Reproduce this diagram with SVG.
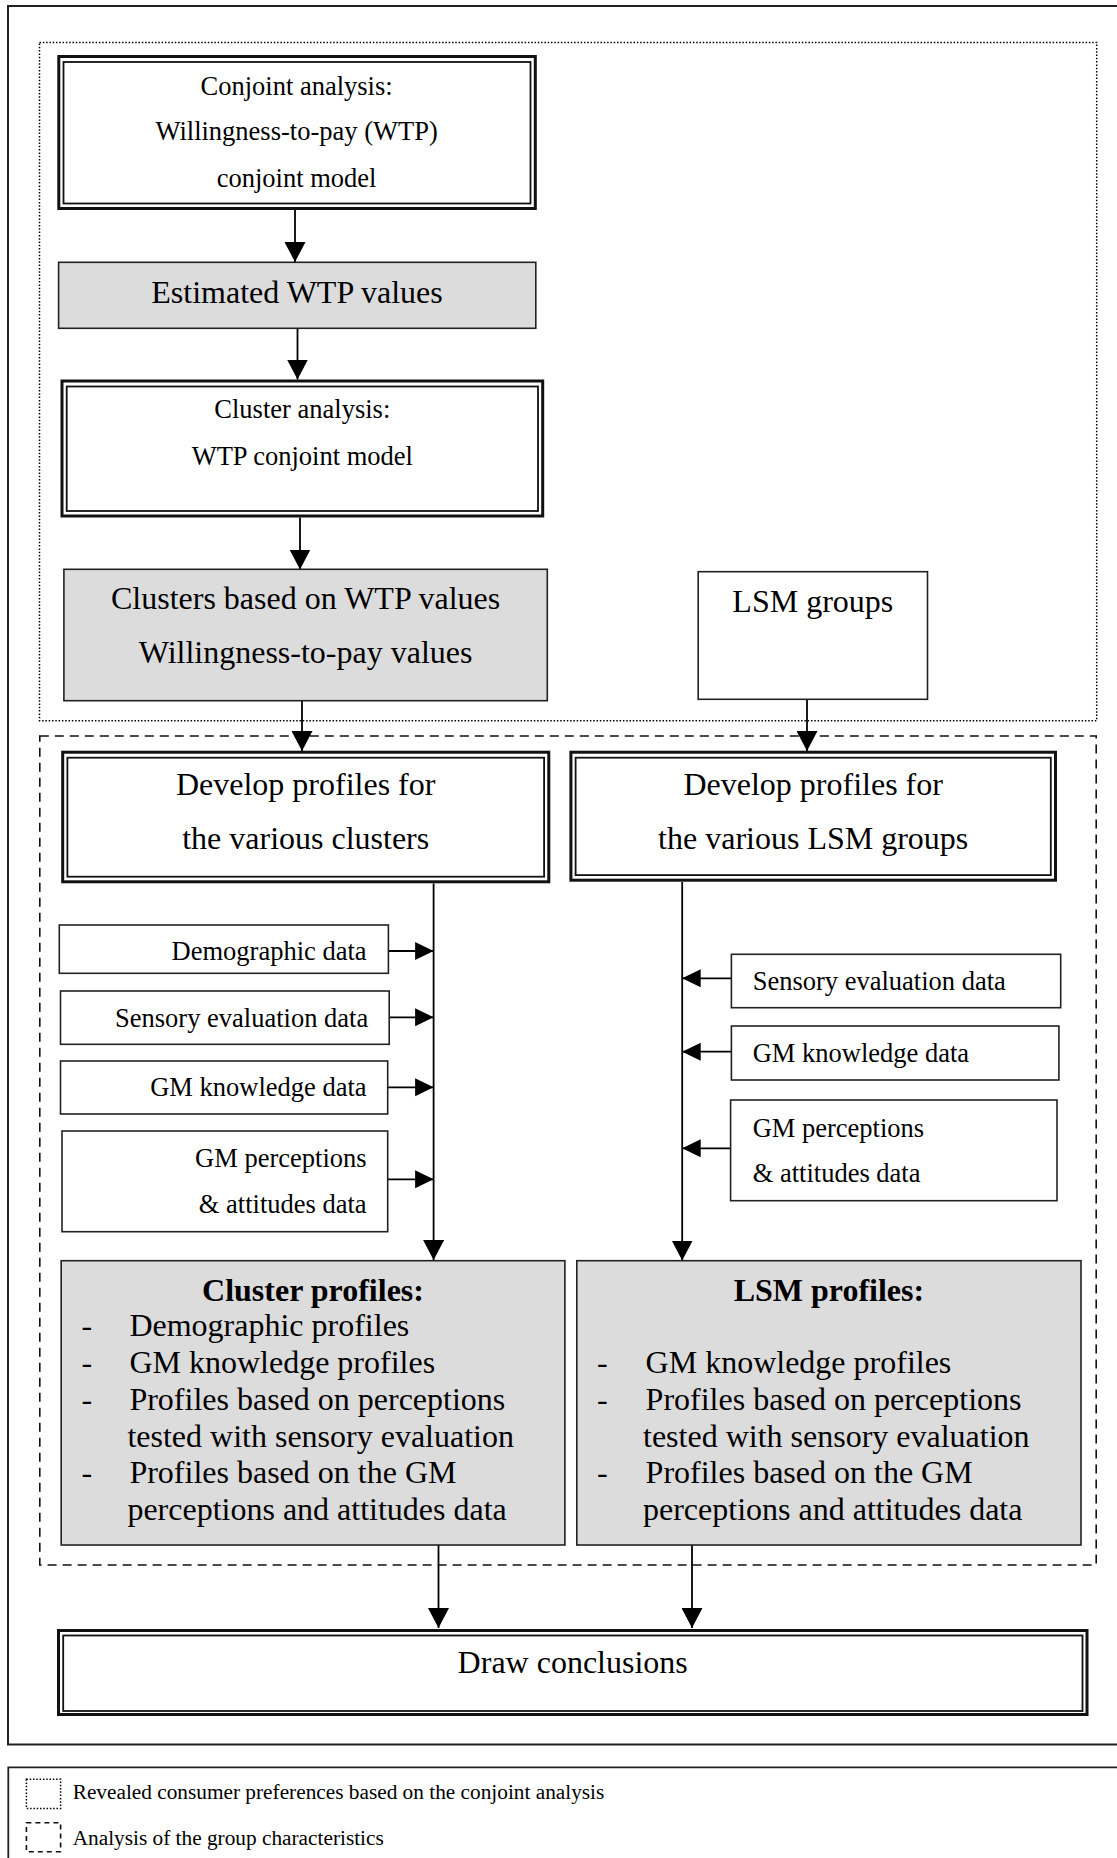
<svg xmlns="http://www.w3.org/2000/svg" width="1117" height="1858" viewBox="0 0 1117 1858">
<style>
  text { font-family: "Liberation Serif", "Times New Roman", serif; fill: #000; }
  .t265 { font-size: 26.5px; }
  .t32 { font-size: 32px; }
  .b32 { font-size: 32px; font-weight: bold; }
  .leg { font-size: 21.3px; }
  .mid { text-anchor: middle; }
  .end { text-anchor: end; }
  .box { fill: #fff; stroke: #222; stroke-width: 1.6; }
  .gray { fill: #dcdcdc; stroke: #222; stroke-width: 1.6; }
  .dbl-o { fill: #fff; stroke: #111; stroke-width: 3; }
  .dbl-i { fill: none; stroke: #111; stroke-width: 1.8; }
  .frame { fill: none; stroke: #222; stroke-width: 2; }
  .dotted { fill: none; stroke: #000; stroke-width: 1.5; stroke-dasharray: 1.5 1.8; }
  .dashed { fill: none; stroke: #111; stroke-width: 1.6; stroke-dasharray: 9 6; }
  .dashed-s { fill: none; stroke: #111; stroke-width: 1.6; stroke-dasharray: 5 4; }
  .conn { fill: none; stroke: #000; stroke-width: 1.8; }
</style>
<defs>
  <marker id="arr" markerUnits="userSpaceOnUse" markerWidth="21" markerHeight="21" refX="20" refY="10.5" orient="auto">
    <path d="M0,0 L20,10.5 L0,21 Z" fill="#000"/>
  </marker>
  <marker id="arrs" markerUnits="userSpaceOnUse" markerWidth="19" markerHeight="19" refX="18.5" refY="9" orient="auto">
    <path d="M0,0 L18.5,9 L0,18 Z" fill="#000"/>
  </marker>
</defs>

<rect width="1117" height="1858" fill="#fff"/>

<!-- outer frame -->
<g id="frame">
  <path class="frame" d="M1120,6 H8 V1744.5 H1120"/>
</g>

<!-- groups -->
<g id="group-conjoint">
  <rect class="dotted" x="39.5" y="42.5" width="1057.2" height="678.2"/>
</g>
<g id="group-characteristics">
  <rect class="dashed" x="39.8" y="736" width="1056.4" height="829"/>
</g>

<!-- connectors -->
<g id="connectors">
  <line class="conn" x1="295" y1="210" x2="295" y2="262" marker-end="url(#arr)"/>
  <line class="conn" x1="297.5" y1="328.5" x2="297.5" y2="379.5" marker-end="url(#arr)"/>
  <line class="conn" x1="300" y1="517.5" x2="300" y2="569.5" marker-end="url(#arr)"/>
  <line class="conn" x1="302" y1="701" x2="302" y2="751" marker-end="url(#arr)"/>
  <line class="conn" x1="807" y1="699.5" x2="807" y2="751" marker-end="url(#arr)"/>
  <line class="conn" x1="433.6" y1="883.5" x2="433.6" y2="1260" marker-end="url(#arr)"/>
  <line class="conn" x1="682.2" y1="882" x2="682.2" y2="1260.5" marker-end="url(#arr)"/>
  <line class="conn" x1="388.4" y1="951" x2="433.6" y2="951" marker-end="url(#arrs)"/>
  <line class="conn" x1="389.2" y1="1017.3" x2="433.6" y2="1017.3" marker-end="url(#arrs)"/>
  <line class="conn" x1="387.7" y1="1087.3" x2="433.6" y2="1087.3" marker-end="url(#arrs)"/>
  <line class="conn" x1="387.7" y1="1179.3" x2="433.6" y2="1179.3" marker-end="url(#arrs)"/>
  <line class="conn" x1="731.4" y1="978.3" x2="682.2" y2="978.3" marker-end="url(#arrs)"/>
  <line class="conn" x1="731.4" y1="1051.7" x2="682.2" y2="1051.7" marker-end="url(#arrs)"/>
  <line class="conn" x1="730.6" y1="1148.3" x2="682.2" y2="1148.3" marker-end="url(#arrs)"/>
  <line class="conn" x1="438.5" y1="1545" x2="438.5" y2="1628" marker-end="url(#arr)"/>
  <line class="conn" x1="692" y1="1545" x2="692" y2="1628" marker-end="url(#arr)"/>
</g>

<!-- nodes -->
<g id="conjoint-analysis">
  <rect class="dbl-o" x="58.8" y="56.5" width="476.5" height="152"/>
  <rect class="dbl-i" x="63.5" y="62" width="467" height="141.5"/>
  <text class="t265 mid" x="296.6" y="95">Conjoint analysis:</text>
  <text class="t265 mid" x="296.6" y="140">Willingness-to-pay (WTP)</text>
  <text class="t265 mid" x="296.6" y="186.7">conjoint model</text>
</g>

<g id="estimated-wtp">
  <rect class="gray" x="58.6" y="262.3" width="477.2" height="66"/>
  <text class="t32 mid" x="297" y="302.7">Estimated WTP values</text>
</g>

<g id="cluster-analysis">
  <rect class="dbl-o" x="62" y="381" width="480.7" height="135"/>
  <rect class="dbl-i" x="66.7" y="386.5" width="471.3" height="124.5"/>
  <text class="t265 mid" x="302.3" y="418.3">Cluster analysis:</text>
  <text class="t265 mid" x="302.3" y="465">WTP conjoint model</text>
</g>

<g id="clusters-wtp">
  <rect class="gray" x="63.9" y="569.3" width="483.4" height="131.4"/>
  <text class="t32 mid" x="305.6" y="609.3">Clusters based on WTP values</text>
  <text class="t32 mid" x="305.6" y="663.3">Willingness-to-pay values</text>
</g>

<g id="lsm-groups">
  <rect class="box" x="698.2" y="571.7" width="229.3" height="127.6"/>
  <text class="t32 mid" x="812.8" y="611.7">LSM groups</text>
</g>

<g id="develop-clusters">
  <rect class="dbl-o" x="62.7" y="752.2" width="486.1" height="129.6"/>
  <rect class="dbl-i" x="67.4" y="757.7" width="476.7" height="119"/>
  <text class="t32 mid" x="305.7" y="795">Develop profiles for</text>
  <text class="t32 mid" x="305.7" y="849.3">the various clusters</text>
</g>

<g id="develop-lsm">
  <rect class="dbl-o" x="570.9" y="752.2" width="484.6" height="128"/>
  <rect class="dbl-i" x="575.6" y="757.7" width="475.2" height="117.4"/>
  <text class="t32 mid" x="813.2" y="795">Develop profiles for</text>
  <text class="t32 mid" x="813.2" y="849.3">the various LSM groups</text>
</g>

<g id="left-demographic">
  <rect class="box" x="59.3" y="925" width="329.1" height="48.3"/>
  <text class="t265 end" x="366.6" y="960">Demographic data</text>
</g>
<g id="left-sensory">
  <rect class="box" x="60.5" y="991" width="328.7" height="53.3"/>
  <text class="t265 end" x="368.2" y="1026.7">Sensory evaluation data</text>
</g>
<g id="left-knowledge">
  <rect class="box" x="60.5" y="1061" width="327.2" height="53"/>
  <text class="t265 end" x="366.6" y="1096">GM knowledge data</text>
</g>
<g id="left-perceptions">
  <rect class="box" x="62" y="1131" width="325.7" height="100.7"/>
  <text class="t265 end" x="366.6" y="1166.7">GM perceptions</text>
  <text class="t265 end" x="366.6" y="1212.7">&amp; attitudes data</text>
</g>

<g id="right-sensory">
  <rect class="box" x="731.4" y="954.3" width="329.3" height="53.4"/>
  <text class="t265" x="752.7" y="990">Sensory evaluation data</text>
</g>
<g id="right-knowledge">
  <rect class="box" x="731.4" y="1026" width="327.5" height="54"/>
  <text class="t265" x="752.7" y="1061.7">GM knowledge data</text>
</g>
<g id="right-perceptions">
  <rect class="box" x="730.6" y="1100" width="326.4" height="100.7"/>
  <text class="t265" x="752.7" y="1136.7">GM perceptions</text>
  <text class="t265" x="752.7" y="1181.7">&amp; attitudes data</text>
</g>

<g id="cluster-profiles">
  <rect class="gray" x="61.2" y="1260.7" width="503.7" height="284.3"/>
  <text class="b32 mid" x="313" y="1300.7">Cluster profiles:</text>
  <text class="t32" x="81.5" y="1336">-</text>
  <text class="t32" x="129.4" y="1336">Demographic profiles</text>
  <text class="t32" x="81.5" y="1372.7">-</text>
  <text class="t32" x="129.4" y="1372.7">GM knowledge profiles</text>
  <text class="t32" x="81.5" y="1410">-</text>
  <text class="t32" x="129.4" y="1410">Profiles based on perceptions</text>
  <text class="t32" x="127.4" y="1446.7">tested with sensory evaluation</text>
  <text class="t32" x="81.5" y="1483.3">-</text>
  <text class="t32" x="129.4" y="1483.3">Profiles based on the GM</text>
  <text class="t32" x="127.4" y="1520">perceptions and attitudes data</text>
</g>

<g id="lsm-profiles">
  <rect class="gray" x="576.8" y="1260.7" width="504.2" height="284.3"/>
  <text class="b32 mid" x="828.9" y="1300.7">LSM profiles:</text>
  <text class="t32" x="597" y="1372.7">-</text>
  <text class="t32" x="645.6" y="1372.7">GM knowledge profiles</text>
  <text class="t32" x="597" y="1410">-</text>
  <text class="t32" x="645.6" y="1410">Profiles based on perceptions</text>
  <text class="t32" x="643" y="1446.7">tested with sensory evaluation</text>
  <text class="t32" x="597" y="1483.3">-</text>
  <text class="t32" x="645.6" y="1483.3">Profiles based on the GM</text>
  <text class="t32" x="643" y="1520">perceptions and attitudes data</text>
</g>

<g id="draw-conclusions">
  <rect class="dbl-o" x="58.5" y="1630.5" width="1028.5" height="84"/>
  <rect class="dbl-i" x="63.2" y="1635.5" width="1019.3" height="75.5"/>
  <text class="t32 mid" x="572.7" y="1673.3">Draw conclusions</text>
</g>

<!-- legend -->
<g id="legend">
  <path class="frame" style="stroke-width:1.8" d="M1120,1767.3 H8.3 V1862"/>
  <rect class="dotted" x="26.4" y="1779.3" width="34.2" height="29.2"/>
  <text class="leg" x="72.7" y="1799.3">Revealed consumer preferences based on the conjoint analysis</text>
  <rect class="dashed-s" x="26.4" y="1822.7" width="34.2" height="29"/>
  <text class="leg" x="72.7" y="1845">Analysis of the group characteristics</text>
</g>
</svg>
